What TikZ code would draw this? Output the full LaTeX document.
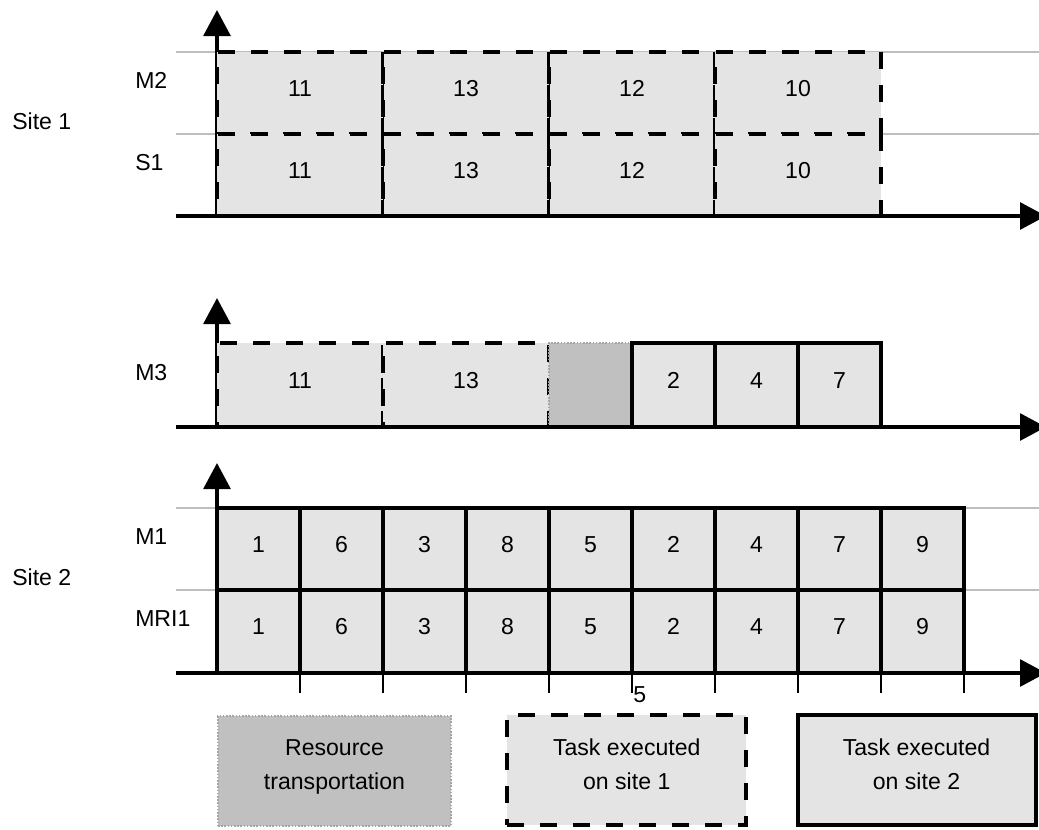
\documentclass[tikz,border=0pt]{standalone}
\usepackage{fontspec}
\setmainfont{Liberation Sans}
\usetikzlibrary{arrows.meta}
\definecolor{cellgray}{RGB}{228,228,228}
\definecolor{transgray}{RGB}{192,192,192}
\definecolor{gridgray}{RGB}{190,190,190}
\definecolor{dotgray}{RGB}{165,165,165}
\begin{document}
\begin{tikzpicture}[x=0.75pt,y=-0.75pt,
  every node/.style={font=\fontsize{17.3}{20}\selectfont},
  cellbase/.style={rectangle, inner sep=0pt, outer sep=0pt, fill=cellgray, text height=12.3pt, text depth=7.8pt, line width=3pt},
  siteonecell/.style={cellbase, draw=black, dash pattern=on 12.75pt off 12pt},
  sitetwocell/.style={cellbase, draw=black},
  transcell/.style={cellbase, fill=transgray, draw=dotgray, line width=1.5pt, dash pattern=on 1.2pt off 1.2pt},
  gridline/.style={draw=gridgray, line width=1.5pt},
  axisline/.style={line width=3pt, -{Triangle[length=19.5pt,width=20pt]}},
  tickline/.style={line width=1.1pt},
  rowlabel/.style={anchor=base west, inner sep=0pt},
  legendtext/.style={anchor=base, inner sep=0pt},
]
\clip (0,0) rectangle (1039,829);

% grid lines
\coordinate (ga1) at (176,52);  \coordinate (gb1) at (1039,52);
\coordinate (ga2) at (176,134); \coordinate (gb2) at (1039,134);
\coordinate (ga3) at (176,508); \coordinate (gb3) at (1039,508);
\coordinate (ga4) at (176,590); \coordinate (gb4) at (1039,590);
\foreach \i in {1,...,4} \draw[gridline] (ga\i) -- (gb\i);

% vertical axes
\coordinate (oA) at (217,216); \coordinate (yA) at (217,10);
\coordinate (oB) at (217,427); \coordinate (yB) at (217,298);
\coordinate (oC) at (217,673); \coordinate (yC) at (217,463);
\draw[axisline] (oA) -- (yA);
\draw[axisline] (oB) -- (yB);
\draw[axisline] (oC) -- (yC);

% top panel (site 1)
\foreach \n/\x [count=\i] in {11/217,13/383,12/549,10/715} {
  \node[siteonecell, minimum width=124.5pt, minimum height=61.5pt] (mtwo\i) at (\x+83,93) {\n};
  \node[siteonecell, minimum width=124.5pt, minimum height=61.5pt] (sone\i) at (\x+83,175) {\n};
}
\draw[line width=0.75pt] (mtwo2.north west) -- (sone2.south west);
\draw[line width=0.75pt] (mtwo3.north west) -- (sone3.south west);

% middle panel (M3)
\node[siteonecell, minimum width=124.5pt, minimum height=63pt] (mthree1) at (300,385) {11};
\node[siteonecell, minimum width=124.5pt, minimum height=63pt] (mthree2) at (466,385) {13};
\node[transcell, minimum width=62.25pt, minimum height=63pt] (mthree3) at (590.5,385) {};
\node[sitetwocell, minimum width=62.25pt, minimum height=63pt] (mthree4) at (673.5,385) {2};
\node[sitetwocell, minimum width=62.25pt, minimum height=63pt] (mthree5) at (756.5,385) {4};
\node[sitetwocell, minimum width=62.25pt, minimum height=63pt] (mthree6) at (839.5,385) {7};

% bottom panel (site 2)
\foreach \n [count=\i] in {1,6,3,8,5,2,4,7,9} {
  \node[sitetwocell, minimum width=62.25pt, minimum height=61.5pt] (mone\i) at (175.5+83*\i,549) {\n};
  \node[sitetwocell, minimum width=62.25pt, minimum height=62.25pt] (mri\i) at (175.5+83*\i,631.5) {\n};
}

% horizontal axes
\coordinate (hA0) at (176,216); \coordinate (hA1) at (1046,216);
\coordinate (hB0) at (176,427); \coordinate (hB1) at (1046,427);
\coordinate (hC0) at (176,673); \coordinate (hC1) at (1046,673);
\draw[axisline] (hA0) -- (hA1);
\draw[axisline] (hB0) -- (hB1);
\draw[axisline] (hC0) -- (hC1);

% ticks
\foreach \i in {1,...,9} {
  \coordinate (ta\i) at (217+83*\i,673);
  \coordinate (tb\i) at (217+83*\i,693);
  \draw[tickline] (ta\i) -- (tb\i);
}
\node[anchor=base west, inner sep=0pt] (five) at (633,702) {5};

% row labels
\node[rowlabel] (siteone) at (12,129) {Site 1};
\node[rowlabel] (lmtwo) at (135,88) {M2};
\node[rowlabel] (lsone) at (135,170) {S1};
\node[rowlabel] (lmthree) at (135,380) {M3};
\node[rowlabel] (lmone) at (135,544) {M1};
\node[rowlabel] (lmri) at (135,626) {MRI1};
\node[rowlabel] (sitetwo) at (12,585) {Site 2};

% legend
\node[transcell, minimum width=174.75pt, minimum height=82.5pt] (legtrans) at (334.5,771) {};
\node[siteonecell, minimum width=179.6pt, minimum height=82.5pt] (legone) at (626.75,770) {};
\node[sitetwocell, minimum width=178.5pt, minimum height=82.5pt] (legtwo) at (916.5,770) {};
\node[legendtext] (lt1a) at (334.5,755) {Resource};
\node[legendtext] (lt1b) at (334.5,789) {transportation};
\node[legendtext] (lt2a) at (626.75,755) {Task executed};
\node[legendtext] (lt2b) at (626.75,789) {on site 1};
\node[legendtext] (lt3a) at (916.5,755) {Task executed};
\node[legendtext] (lt3b) at (916.5,789) {on site 2};
\end{tikzpicture}
\end{document}
